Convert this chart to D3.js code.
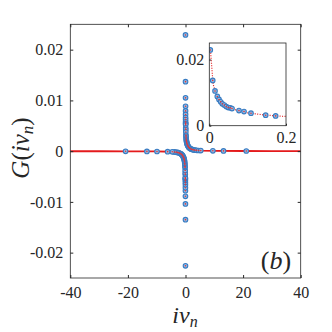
<!DOCTYPE html>
<html>
<head>
    <meta charset="UTF-8">
    <script src="https://d3js.org/d3.v7.min.js"></script>
</head>
<body style="margin:0">
<svg id="viz" width="332" height="332" font-family="Liberation Serif"></svg>
<script>
    // positive Matsubara side
    var posX = [0.0026, 0.0089, 0.0149, 0.0209, 0.0253, 0.0297, 0.0339, 0.0391, 0.0443, 0.0495, 0.0548, 0.0592,
        0.0774, 0.0905, 0.1087, 0.147, 0.173,
        0.21, 0.25, 0.30, 0.36, 0.43, 0.51, 0.60, 0.70, 0.82, 0.96, 1.12, 1.30, 1.52, 1.78, 2.08, 2.44, 2.86,
        3.35, 3.9, 4.6, 5.3, 9.5, 13.2, 21.1];
    var posG = [0.0229, 0.0137, 0.0105, 0.00884, 0.00793, 0.00723, 0.00662, 0.00622, 0.00579, 0.00549, 0.0054, 0.00518,
        0.00457, 0.00427, 0.00378, 0.00317, 0.00296,
        0.00262, 0.00236, 0.00212, 0.0019, 0.0017, 0.00152, 0.00135, 0.0012, 0.00105, 0.0009, 0.00077, 0.00066,
        0.00055, 0.00046, 0.00038, 0.00031, 0.00025, 0.0002, 0.00016, 0.00013, 0.00011, 0.00007, 0.00005, 0.00003];
    // negative side
    var negX = [-0.0026, -0.0089, -0.0149, -0.0209, -0.0253, -0.0297, -0.0339, -0.0391, -0.0443, -0.0495, -0.0548, -0.0592,
        -0.0774, -0.0905, -0.1087, -0.147, -0.173,
        -0.21, -0.25, -0.30, -0.36, -0.43, -0.51, -0.60, -0.70, -0.82, -0.96, -1.12, -1.30, -1.52, -1.78, -2.08, -2.44, -2.86,
        -3.35, -3.9, -4.6, -6.2, -9.9, -13.4, -20.8];
    var negG = [-0.0226, -0.0135, -0.0104, -0.0089, -0.0078, -0.0072, -0.0066, -0.0062, -0.0058, -0.0055, -0.0054, -0.0052,
        -0.0046, -0.0043, -0.0038, -0.0032, -0.0030,
        -0.0026, -0.0024, -0.0021, -0.0019, -0.0017, -0.0015, -0.00135, -0.0012, -0.00105, -0.0009, -0.00077, -0.00066,
        -0.00055, -0.00046, -0.00038, -0.00031, -0.00025, -0.0002, -0.00016, -0.00013, -0.0001, -0.00007, -0.00005, -0.00003];

    // fit curve (red)
    var fitX = [-40, -30, -20, -10, -5, -3, -2, -1.5, -1.2, 1.2, 1.5, 2, 3, 5, 10, 20, 30, 40];
    var fitG = [-0.00002, -0.00002, -0.00003, -0.00006, -0.00012, -0.00024, -0.0004, -0.00055, -0.0007,
        0.0007, 0.00055, 0.0004, 0.00024, 0.00012, 0.00006, 0.00003, 0.00002, 0.00002];
    var insetFitX = [0.003, 0.01, 0.02, 0.04, 0.06, 0.08, 0.1, 0.12, 0.14, 0.16, 0.18, 0.2];
    var insetFitG = [0.0228, 0.0125, 0.0088, 0.0062, 0.0051, 0.0044, 0.0039, 0.0036, 0.0033, 0.0031, 0.0029, 0.0028];

    var xTicks = [-40, -20, 0, 20, 40];
    var yTicks = [-0.02, -0.01, 0, 0.01, 0.02];
    var insetXTicks = [0, 0.2];
    var insetYTicks = [0, 0.02];

    var points = posX.map(function (x, i) { return {x: x, g: posG[i]}; })
        .concat(negX.map(function (x, i) { return {x: x, g: negG[i]}; }));

    var svg = d3.select("#viz");
    var axisColor = "#262626";
    var serif = "Liberation Serif";
    var fmt = function (d) { return d === 0 ? "0" : String(+d.toFixed(2)); };

    // main plot
    var xScale = d3.scaleLinear().domain([-40, 40]).range([70.3, 300.7]);
    var yScale = d3.scaleLinear().domain([-0.025, 0.025]).range([278, 24.3]);

    svg.append("clipPath").attr("id", "clipMain")
        .append("rect")
        .attr("x", xScale(-40)).attr("y", yScale(0.025))
        .attr("width", xScale(40) - xScale(-40))
        .attr("height", yScale(-0.025) - yScale(0.025));

    var main = svg.append("g").attr("clip-path", "url(#clipMain)");

    var line = d3.line()
        .x(function (d) { return xScale(d[0]); })
        .y(function (d) { return yScale(d[1]); });
    var fitPts = fitX.map(function (x, i) { return [x, fitG[i]]; });
    main.append("path")
        .attr("d", line(fitPts.filter(function (d) { return d[0] < 0; })))
        .attr("fill", "none").attr("stroke", "#e41a1c").attr("stroke-width", 1.8);
    main.append("path")
        .attr("d", line(fitPts.filter(function (d) { return d[0] > 0; })))
        .attr("fill", "none").attr("stroke", "#e41a1c").attr("stroke-width", 1.8);

    function drawMarkers(g, data, xs, ys) {
        g.selectAll("circle.m")
            .data(data)
            .enter()
            .append("circle")
            .attr("class", "m")
            .attr("cx", function (d) { return xs(d.x); })
            .attr("cy", function (d) { return ys(d.g); })
            .attr("r", 2.3)
            .attr("fill", "#8fbbe6")
            .attr("stroke", "#3a7cc2")
            .attr("stroke-width", 1.1);
        g.selectAll("circle.c")
            .data(data)
            .enter()
            .append("circle")
            .attr("class", "c")
            .attr("cx", function (d) { return xs(d.x); })
            .attr("cy", function (d) { return ys(d.g); })
            .attr("r", 0.8)
            .attr("fill", "#e0383a");
    }
    drawMarkers(main, points, xScale, yScale);

    // axes with inward ticks on all four sides
    function styleAxis(g) {
        g.attr("font-family", serif).attr("font-size", 16);
        g.select(".domain").remove();
        g.selectAll(".tick line").attr("stroke", axisColor);
        g.selectAll("text").attr("fill", axisColor).attr("font-family", serif);
    }
    svg.append("g")
        .attr("transform", "translate(0," + yScale(-0.025) + ")")
        .call(d3.axisBottom(xScale).tickValues(xTicks).tickSize(-3).tickPadding(9).tickFormat(String))
        .call(styleAxis);
    svg.append("g")
        .attr("transform", "translate(0," + yScale(0.025) + ")")
        .call(d3.axisTop(xScale).tickValues(xTicks).tickSize(-3).tickFormat(""))
        .call(styleAxis);
    svg.append("g")
        .attr("transform", "translate(" + xScale(-40) + ",0)")
        .call(d3.axisLeft(yScale).tickValues(yTicks).tickSize(-3).tickPadding(7).tickFormat(fmt))
        .call(styleAxis);
    svg.append("g")
        .attr("transform", "translate(" + xScale(40) + ",0)")
        .call(d3.axisRight(yScale).tickValues(yTicks).tickSize(-3).tickFormat(""))
        .call(styleAxis);

    svg.append("rect")
        .attr("x", xScale(-40)).attr("y", yScale(0.025))
        .attr("width", xScale(40) - xScale(-40))
        .attr("height", yScale(-0.025) - yScale(0.025))
        .attr("fill", "none").attr("stroke", axisColor).attr("stroke-width", 0.8);

    // inset
    var ixScale = d3.scaleLinear().domain([0, 0.2]).range([209.3, 286]);
    var iyScale = d3.scaleLinear().domain([0, 0.025]).range([125.7, 43]);

    svg.append("rect")
        .attr("x", ixScale(0)).attr("y", iyScale(0.025))
        .attr("width", ixScale(0.2) - ixScale(0))
        .attr("height", iyScale(0) - iyScale(0.025))
        .attr("fill", "white");

    svg.append("clipPath").attr("id", "clipInset")
        .append("rect")
        .attr("x", ixScale(0)).attr("y", iyScale(0.025))
        .attr("width", ixScale(0.2) - ixScale(0))
        .attr("height", iyScale(0) - iyScale(0.025));
    var inset = svg.append("g").attr("clip-path", "url(#clipInset)");

    var iline = d3.line()
        .x(function (d) { return ixScale(d[0]); })
        .y(function (d) { return iyScale(d[1]); });
    inset.append("path")
        .attr("d", iline(insetFitX.map(function (x, i) { return [x, insetFitG[i]]; })))
        .attr("fill", "none").attr("stroke", "#e41a1c").attr("stroke-width", 1.2)
        .attr("stroke-dasharray", "1,1.5");

    drawMarkers(inset, points.filter(function (d) { return d.x > 0 && d.x <= 0.2; }), ixScale, iyScale);

    svg.append("g")
        .attr("transform", "translate(0," + iyScale(0) + ")")
        .call(d3.axisBottom(ixScale).tickValues(insetXTicks).tickSize(-2).tickPadding(6).tickFormat(fmt))
        .call(styleAxis);
    svg.append("g")
        .attr("transform", "translate(" + ixScale(0) + ",0)")
        .call(d3.axisLeft(iyScale).tickValues(insetYTicks).tickSize(-2).tickPadding(5).tickFormat(fmt))
        .call(styleAxis);
    svg.append("rect")
        .attr("x", ixScale(0)).attr("y", iyScale(0.025))
        .attr("width", ixScale(0.2) - ixScale(0))
        .attr("height", iyScale(0) - iyScale(0.025))
        .attr("fill", "none").attr("stroke", axisColor).attr("stroke-width", 0.8);

    // labels
    var xl = svg.append("text")
        .attr("x", 185).attr("y", 323)
        .attr("text-anchor", "middle")
        .attr("fill", axisColor)
        .attr("font-family", serif)
        .attr("font-size", 24).attr("font-style", "italic");
    xl.append("tspan").text("i\u03bd");
    xl.append("tspan").attr("dy", 4).attr("font-size", 16).text("n");

    var yl = svg.append("text")
        .attr("transform", "translate(29,148) rotate(-90)")
        .attr("text-anchor", "middle")
        .attr("fill", axisColor)
        .attr("font-family", serif)
        .attr("font-size", 25);
    yl.append("tspan").attr("font-style", "italic").text("G");
    yl.append("tspan").text("(");
    yl.append("tspan").attr("font-style", "italic").text("i\u03bd");
    yl.append("tspan").attr("dy", 4).attr("font-style", "italic").attr("font-size", 17).text("n");
    yl.append("tspan").attr("dy", -4).text(")");

    var bl = svg.append("text")
        .attr("x", 276).attr("y", 269)
        .attr("text-anchor", "middle")
        .attr("fill", axisColor)
        .attr("font-family", serif)
        .attr("font-size", 26);
    bl.append("tspan").text("(");
    bl.append("tspan").attr("font-style", "italic").text("b");
    bl.append("tspan").text(")");
</script>
</body>
</html>
